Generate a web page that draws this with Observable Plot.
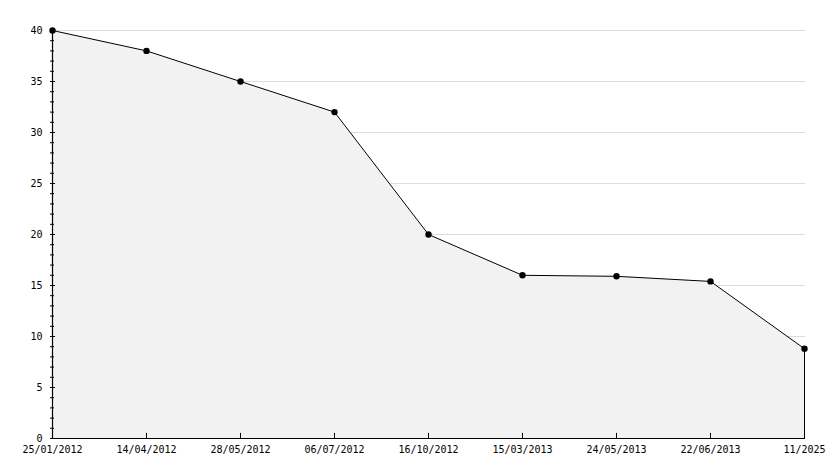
<!DOCTYPE html>
<html>
<head>
<meta charset="utf-8">
<script src="https://cdn.jsdelivr.net/npm/d3@7"></script>
<script src="https://cdn.jsdelivr.net/npm/@observablehq/plot@0.6"></script>
<style>
  html, body { margin: 0; padding: 0; background: #fff; }
  svg { display: block; }
</style>
</head>
<body>
<div id="chart"></div>
<script>
const dates = ["25/01/2012", "14/04/2012", "28/05/2012", "06/07/2012", "16/10/2012", "15/03/2013", "24/05/2013", "22/06/2013", "11/2025"];
const values = [40, 38, 35, 32, 20, 16, 15.9, 15.4, 8.8];
const yTicks = [0, 5, 10, 15, 20, 25, 30, 35, 40];
const yMinor = d3.range(0, 41, 1);

const data = dates.map((d, i) => ({date: d, value: values[i]}));
const last = data[data.length - 1];

const W = 834, H = 468, ML = 50, MR = 29, MT = 30, MB = 30;
const frameW = W - ML - MR;
const font = "DejaVu Sans Mono, monospace";

const chart = Plot.plot({
  width: W,
  height: H,
  marginLeft: ML,
  marginRight: MR,
  marginTop: MT,
  marginBottom: MB,
  style: {fontFamily: font, fontSize: "10px", color: "#000", background: "#fff"},
  x: {type: "point", domain: dates, padding: 0, axis: null},
  y: {domain: [0, 40], axis: null},
  marks: [
    Plot.ruleY(yTicks.filter(d => d > 0), {stroke: "#dddddd", strokeWidth: 1}),
    Plot.areaY(data, {x: "date", y: "value", fill: "#f2f2f2"}),
    Plot.lineY(data, {x: "date", y: "value", stroke: "#000", strokeWidth: 1}),
    Plot.ruleX([last], {x: "date", y1: 0, y2: "value", stroke: "#000", strokeWidth: 1}),
    Plot.dot(data, {x: "date", y: "value", r: 3.2, fill: "#000", stroke: "none"}),
    // axis lines
    Plot.ruleY([0], {stroke: "#000", strokeWidth: 1.2}),
    Plot.ruleX([dates[0]], {stroke: "#000", strokeWidth: 1.2}),
    // y ticks (inside)
    Plot.tickY(yMinor, {y: d => d, stroke: "#000", insetRight: frameW - 4}),
    Plot.tickY(yTicks, {y: d => d, stroke: "#000", insetRight: frameW - 5}),
    // x ticks (inside)
    Plot.ruleX(dates, {x: d => d, y1: 0, y2: 0.5, stroke: "#000"}),
    // labels
    Plot.text(yTicks, {y: d => d, text: d => String(d), frameAnchor: "left", textAnchor: "end", dx: -8, fill: "#000"}),
    Plot.text(dates, {x: d => d, text: d => d, frameAnchor: "bottom", lineAnchor: "top", dy: 7, fill: "#000"})
  ]
});
document.getElementById("chart").appendChild(chart);
</script>
</body>
</html>
